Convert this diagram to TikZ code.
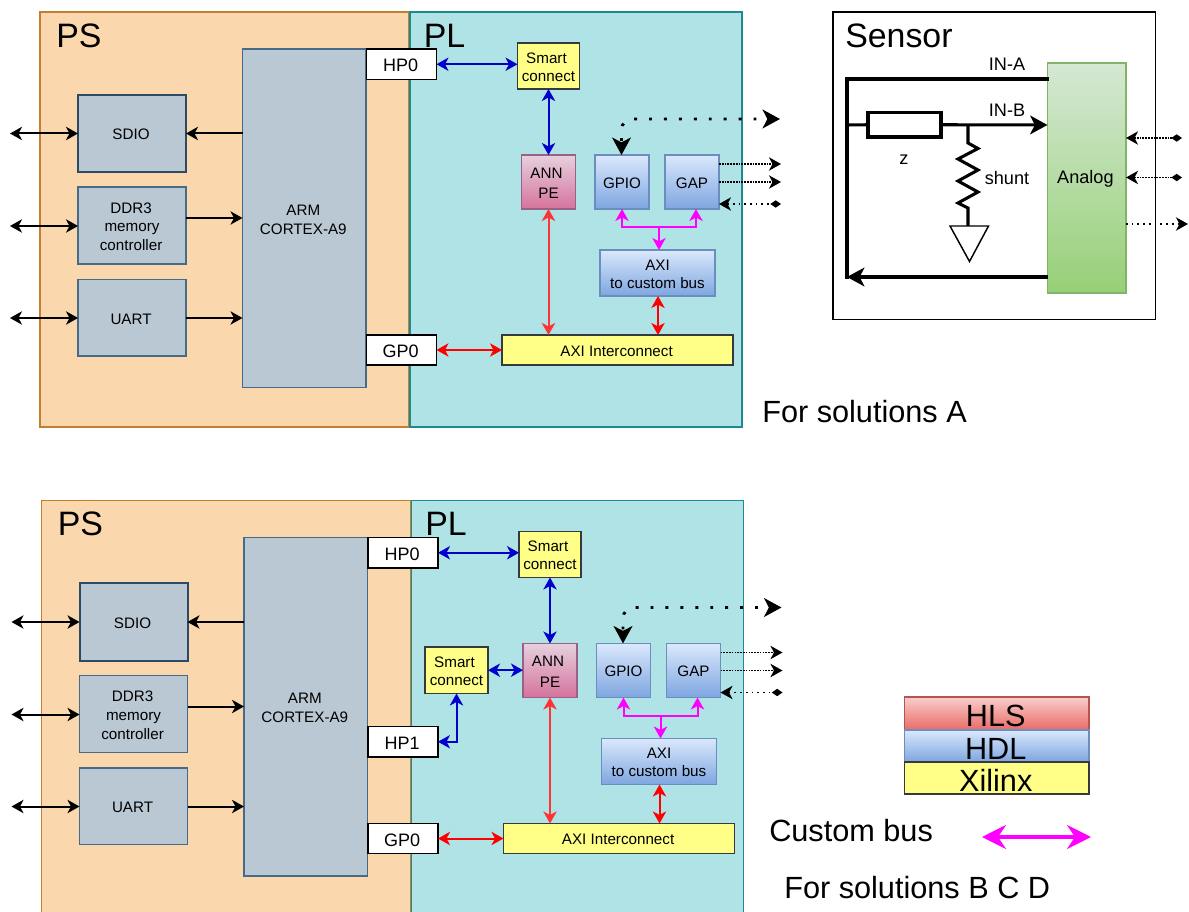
\documentclass[tikz,border=0pt]{standalone}
\usepackage{fontspec}
\setmainfont{Liberation Sans}
\usetikzlibrary{arrows.meta,calc}
\definecolor{psfill}{HTML}{FAD7AC}\definecolor{psline}{HTML}{C0802E}
\definecolor{plfill}{HTML}{B0E3E6}\definecolor{plline}{HTML}{1C8A90}
\definecolor{slate}{HTML}{BAC8D3}\definecolor{slateline}{HTML}{456B88}\definecolor{slatedark}{HTML}{2A4A66}
\definecolor{xil}{HTML}{FFFF88}\definecolor{xilline}{HTML}{36393D}
\definecolor{bluetop}{HTML}{DAE8FC}\definecolor{bluebot}{HTML}{7EA6E0}\definecolor{blueline}{HTML}{6C8EBF}
\definecolor{anntop}{HTML}{E6D0DE}\definecolor{annbot}{HTML}{D5739D}\definecolor{annline}{HTML}{996185}
\definecolor{grtop}{HTML}{D5E8D4}\definecolor{grbot}{HTML}{97D077}\definecolor{grline}{HTML}{82B366}
\definecolor{hlstop}{HTML}{F8CECC}\definecolor{hlsbot}{HTML}{EA6B66}\definecolor{hlsline}{HTML}{B85450}
\definecolor{busblue}{HTML}{0000CC}\definecolor{annred}{HTML}{FF3333}\definecolor{pink}{HTML}{FF00FF}
\newcommand\bx[7]{\node[#1] (#2) at ({(#3+#5)/2},{(#4+#6)/2})
  [minimum width={(#5-#3)*.75pt},minimum height={(#6-#4)*.75pt}] {\rule{0pt}{.86em}#7};}
\newcommand\nudge{\hspace*{1.4pt}}
\tikzset{
  x=.75pt,y=-.75pt,
  basebox/.style={rectangle,inner sep=0pt,outer sep=0pt,align=center,font=\fontsize{11.4}{13.5}\selectfont,line width=1.1pt},
  psbox/.style={basebox,draw=psline,fill=psfill},
  plbox/.style={basebox,draw=plline,fill=plfill},
  slatebox/.style={basebox,draw=slateline,fill=slate},
  portbox/.style={basebox,draw=black,fill=white,font=\fontsize{13.5}{16}\selectfont},
  xilbox/.style={basebox,draw=xilline,fill=xil},
  bluebox/.style={basebox,draw=blueline,top color=bluetop,bottom color=bluebot},
  annbox/.style={basebox,draw=annline,top color=anntop,bottom color=annbot},
  legend/.style={font=\fontsize{23}{27}\selectfont},
  title/.style={anchor=west,inner sep=0pt,font=\fontsize{25.4}{30}\selectfont},
  big/.style={anchor=west,inner sep=0pt,font=\fontsize{23}{27}\selectfont},
  small/.style={inner sep=0pt,font=\fontsize{13.6}{16}\selectfont},
  tip/.tip={Stealth[length=9pt,width=10pt,inset=2.6pt]},
  bigtip/.tip={Stealth[length=13pt,width=14pt,inset=3.5pt]},
  dia/.tip={Diamond[length=8pt,width=5.5pt]},
  sm/.style={line width=1.5pt,black,{tip}-{tip}},
  arm/.style={line width=1.5pt,black,-{tip}},
  bl/.style={line width=1.5pt,busblue,{tip}-{tip}},
  rd/.style={line width=1.5pt,red,{tip}-{tip}},
  mg/.style={line width=1.5pt,pink},
  finedot/.style={line width=1.1pt,dash pattern=on 1.3pt off .8pt},
  sparsedot/.style={line width=1.1pt,dash pattern=on 1.3pt off 3pt},
  wire/.style={line width=2.3pt,black},
}
\newcommand\fpgapanel{%
  \bx{psbox}{psr}{40}{12}{409}{427}{}
  \bx{plbox}{plr}{410}{12}{742}{427}{}
  \node[title] (pst) at (56,35.5) {PS};
  \node[title] (plt) at (423.5,35.5) {PL};
  \bx{slatebox}{arm}{242.5}{49}{366}{387.5}{ARM\nudge\\[1pt]CORTEX-A9\nudge}
  \bx{slatebox,draw=slatedark,line width=1.5pt}{sdio}{78}{95}{186}{172}{SDIO\nudge}
  \bx{slatebox}{ddr}{78}{187}{186}{264}{DDR3\nudge\\[.5pt]memory\nudge\\[.5pt]controller\nudge}
  \bx{slatebox}{uart}{78}{279.5}{186}{356}{UART\nudge}
  \bx{portbox}{hp0}{366.5}{49}{436.5}{79.5}{HP0\nudge}
  \bx{portbox}{gp0}{366.5}{335}{436.5}{365}{GP0\nudge}
  \bx{xilbox}{smart}{517.5}{43}{579.5}{89}{Smart\hspace*{3pt}\\connect}
  \bx{annbox}{ann}{521.5}{155}{575.5}{209}{ANN\hspace*{3pt}\\[2pt]PE}
  \bx{bluebox}{gpio}{595}{155}{649}{209}{GPIO}
  \bx{bluebox}{gap}{665}{155}{719}{209}{GAP}
  \bx{bluebox}{bus}{600}{250}{715}{296}{AXI\\to custom bus}
  \bx{xilbox}{ic}{502}{335}{733}{365}{AXI Interconnect\nudge}
  \coordinate (lsd) at (10,133.5);
  \coordinate (ldd) at (10,226);
  \coordinate (lua) at (10,318);
  \draw[sm] (lsd) -- (lsd -| sdio.west);
  \draw[sm] (ldd) -- (ldd -| ddr.west);
  \draw[sm] (lua) -- (lua -| uart.west);
  \draw[arm] (lsd -| arm.west) -- (lsd -| sdio.east);
  \coordinate (ddrout) at (186,218);
  \draw[arm] (ddrout) -- (ddrout -| arm.west);
  \draw[arm] (lua -| uart.east) -- (lua -| arm.west);
  \draw[bl] (hp0.east) -- (hp0.east -| smart.west);
  \draw[bl] (smart.south) -- (ann.north);
  \draw[rd,annred] (ann.south) -- (ann.south |- ic.north);
  \draw[rd] (gp0.east) -- (gp0.east -| ic.west);
  \coordinate (busx) at (658,296);
  \draw[rd] (busx) -- (busx |- ic.north);
  \coordinate (gpb) at (622,209);
  \coordinate (gab) at (696,209);
  \coordinate (jn) at (659,227);
  \coordinate (bt) at (659,250);
  \draw[mg,{tip}-] (gpb) |- (jn);
  \draw[mg,{tip}-] (gab) |- (jn);
  \draw[mg,-{tip}] (jn) -- (bt);
  \coordinate (dottop) at (780,119);
  \coordinate (gpt) at (621.5,155);
  \draw[line width=2.2pt,dash pattern=on 2.2pt off 9pt,dash phase=9.5pt,rounded corners=8pt,{bigtip}-{bigtip}] (gpt) |- (dottop);
  \coordinate (o1) at (781,164);
  \coordinate (o2) at (781,182);
  \coordinate (o3) at (781,204);
  \draw[finedot,-{tip}] (o1 -| gap.east) -- (o1);
  \draw[finedot,-{tip}] (o2 -| gap.east) -- (o2);
  \draw[sparsedot,{tip}-{dia}] (o3 -| gap.east) -- (o3);
}
\begin{document}
\begin{tikzpicture}
\useasboundingbox (0,0) rectangle (1189,912);
\begin{scope}[name prefix=a-]
  \fpgapanel
  \node[big] (solA) at (762,412) {For solutions A};
\end{scope}
\begin{scope}[name prefix=b-,shift={(1.5,488.5)}]
  \fpgapanel
  \bx{portbox}{hp1}{366.5}{238}{436.5}{268.5}{HP1\nudge}
  \bx{xilbox}{smart2}{423.5}{158.5}{486.5}{205}{Smart\hspace*{3pt}\\connect}
  \draw[bl] (hp1.east) -| (smart2.south);
  \coordinate (s2) at (486.5,181.7);
  \draw[bl] (s2) -- (s2 -| ann.west);
\end{scope}
% Sensor
\bx{basebox,draw=black,fill=white}{sensor}{833}{12}{1155.5}{319.5}{}
\node[title] (sensort) at (845,35.5) {Sensor};
\bx{basebox,draw=grline,top color=grtop,bottom color=grbot,font=\fontsize{13.6}{16}\selectfont}{analog}{1047.5}{63}{1126}{293}{Analog\hspace*{2pt}}
\bx{basebox,draw=black,fill=white,line width=2.3pt}{rz}{868}{112.5}{941}{137}{}
\coordinate (ina) at (847,79);
\coordinate (inbl) at (847,125);
\coordinate (ret) at (847,277);
\coordinate (jun) at (968,125);
\coordinate (shtop) at (968,143);
\coordinate (shbot) at (968,208);
\coordinate (gndt) at (968,226);
\draw[wire,line cap=rect] (ina -| analog.west) -- (ina) -- (ret);
\draw[wire,-{bigtip}] (ret -| analog.west) -- (ret);
\draw[wire] (inbl) -- (rz.west);
\draw[wire,-{bigtip}] (rz.east) -- (inbl -| analog.west);
\draw[wire] (jun) -- (shtop) -- (978,148.5) -- (958,159) -- (978,170) -- (958,181) -- (978,192) -- (958,203) -- (shbot) -- (gndt);
\draw[line width=1.1pt,fill=white] (950,226) -- (988.5,226) -- (969.5,261.5) -- cycle;
\node[small] (lina) at (1007,64) {IN-A};
\node[small] (linb) at (1007,110) {IN-B};
\node[small] (lz) at (904,160) {z};
\node[small] (lsh) at (1007,178) {shunt};
\coordinate (r1) at (1182,138);
\coordinate (r2) at (1182,177.5);
\coordinate (r3) at (1188,224);
\draw[finedot,{tip}-{dia}] (r1 -| analog.east) -- (r1);
\draw[finedot,{tip}-{dia}] (r2 -| analog.east) -- (r2);
\draw[sparsedot,-{tip}] (r3 -| analog.east) -- (r3);
% Legend
\bx{basebox,legend,draw=hlsline,top color=hlstop,bottom color=hlsbot}{hls}{904.5}{697}{1089}{730}{HLS\hspace*{1.5pt}}
\bx{basebox,legend,draw=blueline,top color=bluetop,bottom color=bluebot}{hdl}{904.5}{730}{1089}{762}{HDL\hspace*{1.5pt}}
\bx{basebox,legend,draw=xilline,fill=xil}{xlx}{904.5}{762}{1089}{794}{Xilinx\hspace*{1.5pt}}
\node[big] (cb) at (769,831) {Custom bus};
\coordinate (cbl) at (982,837);
\coordinate (cbr) at (1091,837);
\draw[line width=2.6pt,pink,{Stealth[length=18pt,width=18pt,inset=6pt]}-{Stealth[length=18pt,width=18pt,inset=6pt]}] (cbl) -- (cbr);
\node[big] (solB) at (784,888) {For solutions B C D};
\end{tikzpicture}
\end{document}
